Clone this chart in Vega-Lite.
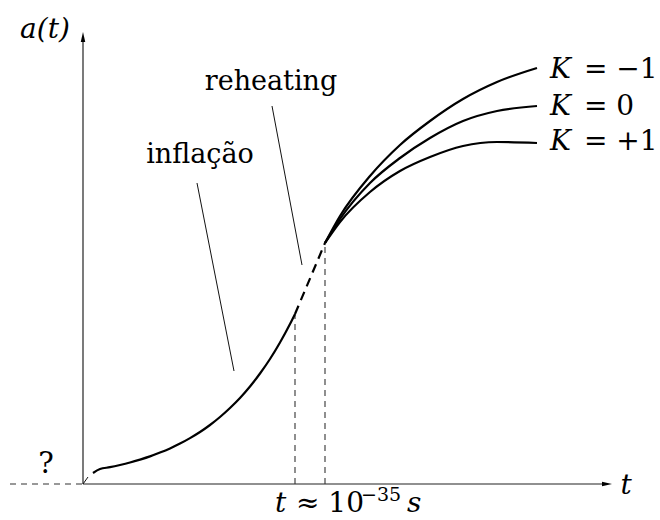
{
  "$schema": "https://vega.github.io/schema/vega-lite/v6.json",
  "width": 660,
  "height": 520,
  "padding": 0,
  "autosize": {"type": "none"},
  "background": "white",
  "config": {"view": {"stroke": null}, "text": {"font": "DejaVu Serif"}},
  "datasets": {
    "curves": [
      {"series": "inf", "t": 10, "a": 11},
      {"series": "inf", "t": 17, "a": 15},
      {"series": "inf", "t": 27, "a": 16.8},
      {"series": "inf", "t": 37, "a": 19},
      {"series": "inf", "t": 47, "a": 21.5},
      {"series": "inf", "t": 57, "a": 24.4},
      {"series": "inf", "t": 67, "a": 27.6},
      {"series": "inf", "t": 77, "a": 31.4},
      {"series": "inf", "t": 87, "a": 35.6},
      {"series": "inf", "t": 97, "a": 40.4},
      {"series": "inf", "t": 107, "a": 45.9},
      {"series": "inf", "t": 117, "a": 52},
      {"series": "inf", "t": 127, "a": 59},
      {"series": "inf", "t": 137, "a": 67},
      {"series": "inf", "t": 147, "a": 76},
      {"series": "inf", "t": 157, "a": 86},
      {"series": "inf", "t": 167, "a": 97.5},
      {"series": "inf", "t": 177, "a": 110.5},
      {"series": "inf", "t": 187, "a": 125},
      {"series": "inf", "t": 197, "a": 141.5},
      {"series": "inf", "t": 207, "a": 160},
      {"series": "inf", "t": 212, "a": 170},
      {"series": "K-1", "t": 242, "a": 241},
      {"series": "K-1", "t": 257, "a": 268},
      {"series": "K-1", "t": 287, "a": 308},
      {"series": "K-1", "t": 317, "a": 339},
      {"series": "K-1", "t": 347, "a": 363},
      {"series": "K-1", "t": 380, "a": 385},
      {"series": "K-1", "t": 414, "a": 402},
      {"series": "K-1", "t": 454, "a": 416},
      {"series": "K0", "t": 242, "a": 241},
      {"series": "K0", "t": 257, "a": 265},
      {"series": "K0", "t": 287, "a": 301},
      {"series": "K0", "t": 317, "a": 326},
      {"series": "K0", "t": 347, "a": 346},
      {"series": "K0", "t": 380, "a": 363},
      {"series": "K0", "t": 414, "a": 373},
      {"series": "K0", "t": 454, "a": 378},
      {"series": "K+1", "t": 242, "a": 241},
      {"series": "K+1", "t": 257, "a": 262},
      {"series": "K+1", "t": 287, "a": 292},
      {"series": "K+1", "t": 317, "a": 313},
      {"series": "K+1", "t": 347, "a": 327},
      {"series": "K+1", "t": 380, "a": 338},
      {"series": "K+1", "t": 414, "a": 342},
      {"series": "K+1", "t": 454, "a": 341}
    ],
    "reheat": [
      {"series": "reh", "t": 212, "a": 170},
      {"series": "reh", "t": 242, "a": 241}
    ],
    "axes": [
      {"id": "y", "t": 0, "a": 0, "t2": 0, "a2": 443},
      {"id": "x", "t": 0, "a": 0, "t2": 520, "a2": 0}
    ],
    "dashedGuides": [
      {"id": "neg", "t": -73, "a": 0, "t2": 0, "a2": 0},
      {"id": "v1", "t": 212, "a": 0, "t2": 212, "a2": 170},
      {"id": "v2", "t": 242, "a": 0, "t2": 242, "a2": 241}
    ],
    "pointers": [
      {"id": "reheating", "t": 189, "a": 378, "t2": 219, "a2": 219},
      {"id": "inflacao", "t": 114, "a": 301, "t2": 151, "a2": 113},
      {"id": "origin", "t": 0, "a": 0, "t2": 5, "a2": 7}
    ],
    "uprightText": [
      {"label": "reheating", "t": 188, "a": 394},
      {"label": "inflação", "t": 117, "a": 321}
    ],
    "question": [
      {"label": "?", "t": -37, "a": 11}
    ],
    "italicText": [
      {"label": "a(t)", "t": -38, "a": 446},
      {"label": "t", "t": 543, "a": -10}
    ],
    "kLabels": [
      {"k": "K", "rest": "= −1", "t": 467, "a": 406},
      {"k": "K", "rest": "= 0", "t": 467, "a": 369},
      {"k": "K", "rest": "= +1", "t": 467, "a": 334}
    ],
    "bottomItalic": [
      {"label": "t", "t": 192, "a": -28},
      {"label": "s", "t": 324, "a": -28}
    ],
    "bottomUpright": [
      {"label": "≈ 10", "t": 213, "a": -28}
    ],
    "bottomSup": [
      {"label": "−35", "t": 278, "a": -17}
    ]
  },
  "encoding": {
    "x": {"field": "t", "type": "quantitative", "scale": {"domain": [-83, 577], "nice": false, "zero": false}, "axis": null},
    "y": {"field": "a", "type": "quantitative", "scale": {"domain": [-36, 484], "nice": false, "zero": false}, "axis": null}
  },
  "layer": [
    {
      "data": {"name": "axes"},
      "mark": {"type": "rule", "color": "#222", "strokeWidth": 1.2},
      "encoding": {"x2": {"field": "t2"}, "y2": {"field": "a2"}}
    },
    {
      "data": {"values": [{"t": 0, "a": 447}]},
      "mark": {"type": "point", "shape": "M0,-1L0.45,1L-0.45,1Z", "size": 100, "filled": true, "color": "#000", "opacity": 1},
      "encoding": {}
    },
    {
      "data": {"values": [{"t": 524, "a": 0}]},
      "mark": {"type": "point", "shape": "M1,0L-1,0.45L-1,-0.45Z", "size": 100, "filled": true, "color": "#000", "opacity": 1},
      "encoding": {}
    },
    {
      "data": {"name": "dashedGuides"},
      "mark": {"type": "rule", "color": "#333", "strokeWidth": 1.1, "strokeDash": [6, 5]},
      "encoding": {"x2": {"field": "t2"}, "y2": {"field": "a2"}}
    },
    {
      "data": {"name": "pointers"},
      "mark": {"type": "rule", "color": "#111", "strokeWidth": 1},
      "encoding": {"x2": {"field": "t2"}, "y2": {"field": "a2"}}
    },
    {
      "data": {"name": "curves"},
      "mark": {"type": "line", "color": "#000", "strokeWidth": 2.2, "interpolate": "monotone"},
      "encoding": {"detail": {"field": "series"}}
    },
    {
      "data": {"name": "reheat"},
      "mark": {"type": "line", "color": "#000", "strokeWidth": 2.2, "strokeDash": [9, 6]},
      "encoding": {"detail": {"field": "series"}}
    },
    {
      "data": {"name": "uprightText"},
      "mark": {"type": "text", "fontSize": 27, "align": "center", "baseline": "alphabetic", "color": "#000"},
      "encoding": {"text": {"field": "label"}}
    },
    {
      "data": {"name": "question"},
      "mark": {"type": "text", "fontSize": 29, "align": "center", "baseline": "alphabetic", "color": "#000"},
      "encoding": {"text": {"field": "label"}}
    },
    {
      "data": {"name": "italicText"},
      "mark": {"type": "text", "fontStyle": "italic", "fontSize": 28, "align": "center", "baseline": "alphabetic", "color": "#000"},
      "encoding": {"text": {"field": "label"}}
    },
    {
      "data": {"name": "kLabels"},
      "mark": {"type": "text", "fontStyle": "italic", "fontSize": 28, "align": "left", "baseline": "alphabetic", "color": "#000"},
      "encoding": {"text": {"field": "k"}}
    },
    {
      "data": {"name": "kLabels"},
      "mark": {"type": "text", "fontSize": 28, "align": "left", "baseline": "alphabetic", "dx": 34, "color": "#000"},
      "encoding": {"text": {"field": "rest"}}
    },
    {
      "data": {"name": "bottomItalic"},
      "mark": {"type": "text", "fontStyle": "italic", "fontSize": 28, "align": "left", "baseline": "alphabetic", "color": "#000"},
      "encoding": {"text": {"field": "label"}}
    },
    {
      "data": {"name": "bottomUpright"},
      "mark": {"type": "text", "fontSize": 28, "align": "left", "baseline": "alphabetic", "color": "#000"},
      "encoding": {"text": {"field": "label"}}
    },
    {
      "data": {"name": "bottomSup"},
      "mark": {"type": "text", "fontSize": 19, "align": "left", "baseline": "alphabetic", "color": "#000"},
      "encoding": {"text": {"field": "label"}}
    }
  ]
}
